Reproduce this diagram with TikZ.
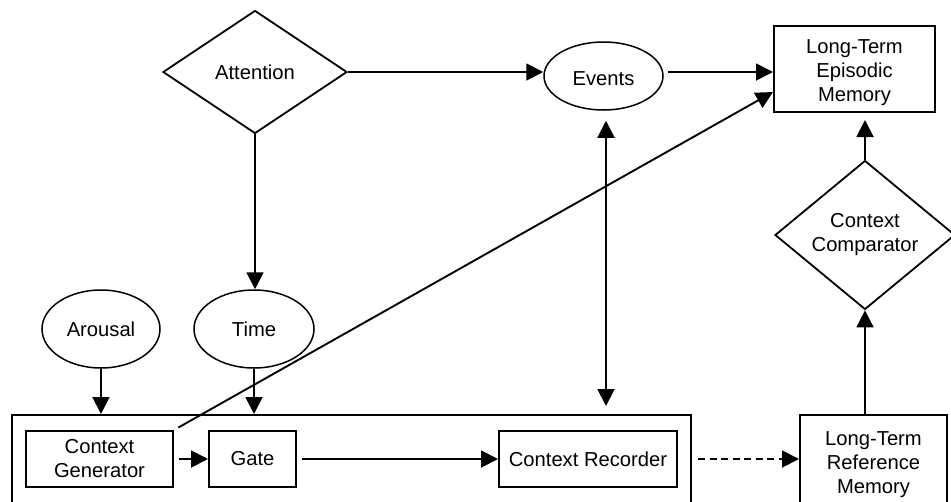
\documentclass[tikz,border=0pt]{standalone}
\usepackage{fontspec}
\setmainfont{Liberation Sans}
\usetikzlibrary{shapes.geometric,arrows.meta,calc}

\tikzset{
  lbl/.style={font=\fontsize{20.2}{24}\selectfont, align=center, inner sep=0pt},
  stagebox/.style={lbl, draw, rectangle, line width=2pt},
  oval/.style={lbl, draw, ellipse, line width=1.5pt},
  decision/.style={lbl, draw, diamond, line width=1.8pt},
  tip/.tip={Triangle[length=17pt,width=17pt]},
  arr/.style={-tip, line width=1.9pt},
  twoway/.style={tip-tip, line width=1.9pt},
}

\begin{document}
\begin{tikzpicture}[x=1pt,y=-1pt]
\path[use as bounding box] (0,0) rectangle (951,501);
\clip (0,0) rectangle (951,501);

% upper part
\node[decision, minimum width=184pt, minimum height=123pt] (att) at (255,72) {Attention};
\node[oval, minimum width=119pt, minimum height=68pt] (ev) at (603.5,76)
  {\raisebox{-2.5pt}[\height][\depth]{Events}};
\node[stagebox, minimum width=161pt, minimum height=86pt] (ltem) at (854.5,69)
  {\raisebox{-4pt}[\height][\depth]{\begin{tabular}{@{}c@{}}Long-Term\\Episodic\\Memory\end{tabular}}};
\node[decision, minimum width=180pt, minimum height=106pt] (cc) at (865,235)
  {Context\\Comparator};

% drives
\node[oval, minimum width=118pt, minimum height=78pt] (arousal) at (101,329) {Arousal};
\node[oval, minimum width=120pt, minimum height=78pt] (time) at (254,329) {Time};

% context system (lower edge runs off the page)
\node[draw, rectangle, line width=2pt, minimum width=679pt, minimum height=90pt,
      inner sep=0pt] (outer) at (351.5,460) {};
\node[stagebox, minimum width=147pt, minimum height=56pt] (cg) at (99.5,459)
  {Context\\Generator};
\node[stagebox, minimum width=87pt, minimum height=56pt] (gate) at (252.5,459) {Gate};
\node[stagebox, minimum width=178pt, minimum height=56pt] (cr) at (588,459)
  {Context Recorder};
\node[stagebox, minimum width=147pt, minimum height=100pt] (ltrm) at (873.5,465)
  {Long-Term\\Reference\\Memory};

% connectors
\draw[arr] (att.east) -- (att.east -| ev.west);
\draw[arr, shorten <=4pt] (ev.east |- att.east) -- (ltem.west |- att.east);
\draw[arr, shorten <=5pt] (cg.north east) -- ($(ltem.south west)+(0,-21)$);
\draw[arr] (att.south) -- (att.south |- time.north);
\draw[arr] (arousal.south) -- (arousal.south |- outer.north);
\draw[arr] (time.south) -- (time.south |- outer.north);
\draw[arr, shorten <=5pt] (cg.east) -- (gate.west);
\draw[arr, shorten <=5pt] (gate.east) -- (cr.west);
\draw[arr, dash pattern=on 7pt off 4.5pt, shorten <=20pt] (cr.east) -- (ltrm.west |- cr.east);
\draw[twoway, shorten <=10pt, shorten >=8pt]
  ([xshift=2.5pt]ev.south) -- ([xshift=2.5pt]ev.south |- outer.north);
\draw[arr] (cc.south |- ltrm.north) -- (cc.south);
\draw[arr, shorten >=7pt] (cc.north) -- (cc.north |- ltem.south);
\end{tikzpicture}
\end{document}
